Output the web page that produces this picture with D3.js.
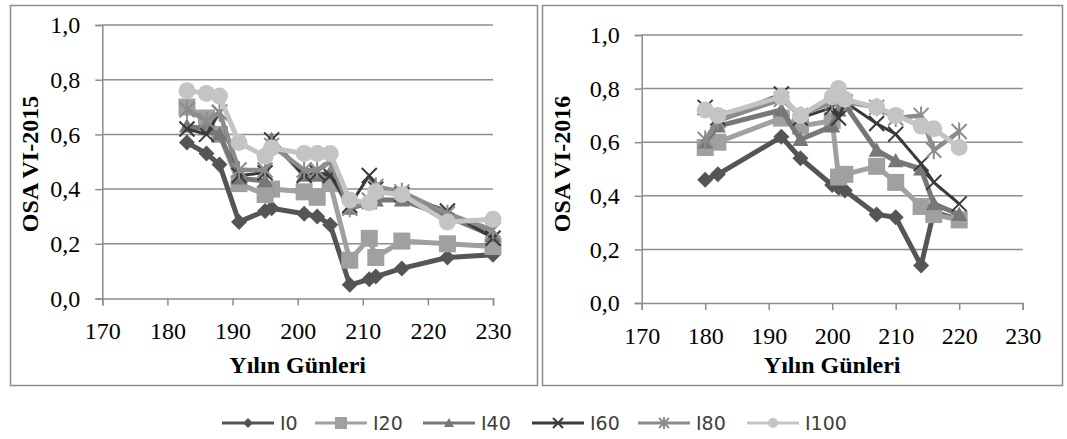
<!DOCTYPE html>
<html><head><meta charset="utf-8">
<script src="https://cdn.jsdelivr.net/npm/d3@7"></script>
<style>body{margin:0;background:#fff}svg{display:block}
.serif{font-family:"Liberation Serif","Times New Roman",Tinos,serif;font-size:24px;fill:#000}
.serif-b{font-family:"Liberation Serif","Times New Roman",Tinos,serif;font-size:24px;font-weight:bold;fill:#000}
.leg{font-family:"DejaVu Sans",Verdana,sans-serif;font-size:19px;fill:#404040}
</style>
</head><body>
<script>
const seriesNames = ["I0","I20","I40","I60","I80","I100"];
const days2015 = [183,186,188,191,195,196,201,203,205,208,211,212,216,223,230];
const i0_2015   = [0.57,0.53,0.49,0.28,0.32,0.33,0.31,0.30,0.27,0.05,0.07,0.08,0.11,0.15,0.16];
const i20_2015  = [0.70,0.66,0.60,0.42,0.38,0.40,0.39,0.37,0.42,0.14,0.22,0.15,0.21,0.20,0.19];
const i40_2015  = [0.63,0.62,0.60,0.44,0.43,0.58,0.45,0.45,0.46,0.33,0.35,0.36,0.36,0.30,0.23];
const i60_2015  = [0.62,0.60,0.68,0.45,0.46,0.58,0.45,0.46,0.45,0.34,0.45,0.40,0.38,0.32,0.22];
const i80_2015  = [0.69,0.65,0.68,0.47,0.47,0.56,0.47,0.47,0.50,0.33,0.36,0.41,0.39,0.31,0.25];
const i100_2015 = [0.76,0.75,0.74,0.57,0.52,0.55,0.53,0.53,0.53,0.36,0.35,0.39,0.38,0.28,0.29];

const days2016 = [180,182,192,195,200,201,202,207,210,214,216,220];
const i0_2016   = [0.46,0.48,0.62,0.54,0.44,0.43,0.42,0.33,0.32,0.14,0.34,0.31];
const i20_2016  = [0.58,0.60,0.69,0.66,0.68,0.47,0.48,0.51,0.45,0.36,0.33,0.31];
const i40_2016  = [0.60,0.66,0.72,0.61,0.66,0.72,0.74,0.57,0.53,0.50,0.37,0.33];
const i60_2016  = [0.73,0.69,0.78,0.69,0.73,0.69,0.75,0.67,0.63,0.52,0.45,0.37];
const i80_2016  = [0.61,0.68,0.76,0.70,0.75,0.78,0.75,0.73,0.69,0.70,0.57,0.64];
const i100_2016 = [0.72,0.70,0.77,0.70,0.77,0.80,0.76,0.73,0.70,0.66,0.65,0.58];

const xTicks = [170,180,190,200,210,220,230];
const yTicks = [0,0.2,0.4,0.6,0.8,1.0];

const colors = {I0:"#555555",I20:"#a0a0a0",I40:"#777777",I60:"#3a3a3a",I80:"#8c8c8c",I100:"#c4c4c4"};
const widths = {I0:5,I20:5,I40:5,I60:3,I80:4.5,I100:5};
const markers = {I0:"diamond",I20:"square",I40:"triangle",I60:"x",I80:"star",I100:"circle"};
const msize = {I0:16,I20:17,I40:16,I60:15,I80:15,I100:17};

const svg = d3.select("body").append("svg").attr("width",1067).attr("height",439);

function markerPath(type, s){
  const h=s/2;
  switch(type){
    case "diamond": return `M0,${-h}L${h},0L0,${h}L${-h},0Z`;
    case "square": return `M${-h},${-h}H${h}V${h}H${-h}Z`;
    case "triangle": return `M0,${-h}L${h},${h*0.8}L${-h},${h*0.8}Z`;
    case "x": return `M${-h},${-h}L${h},${h}M${-h},${h}L${h},${-h}`;
    case "star": return `M${-h},${-h}L${h},${h}M${-h},${h}L${h},${-h}M0,${-h*1.2}V${h*1.2}`;
    case "circle": return d3.symbol(d3.symbolCircle, Math.PI*h*h)();
  }
}
function drawMarker(g,type,x,y,s,col){
  const p = g.append("path").attr("d",markerPath(type,s)).attr("transform",`translate(${x},${y})`);
  if(type==="x"||type==="star") p.attr("fill","none").attr("stroke",col).attr("stroke-width",2);
  else p.attr("fill",col).attr("stroke","none");
}

function panel(opt){
  const g = svg.append("g");
  g.append("rect").attr("x",opt.box[0]+0.5).attr("y",opt.box[1]+0.5).attr("width",opt.box[2]).attr("height",opt.box[3])
    .attr("fill","#fff").attr("stroke","#8c8c8c").attr("stroke-width",1.5);
  const x = d3.scaleLinear().domain([170,230]).range(opt.xr);
  const y = d3.scaleLinear().domain([0,1]).range(opt.yr);
  g.selectAll(".grid").data(yTicks.slice(1)).enter().append("line")
    .attr("x1",opt.xr[0]).attr("x2",opt.xr[1]).attr("y1",d=>y(d)).attr("y2",d=>y(d))
    .attr("stroke","#8c8c8c").attr("stroke-width",1.5);
  const ya = g.append("g").attr("transform",`translate(${opt.xr[0]},0)`)
    .call(d3.axisLeft(y).tickValues(yTicks).tickSize(7).tickPadding(15).tickFormat(d=>d3.format(".1f")(d).replace(".",",")));
  const xa = g.append("g").attr("transform",`translate(0,${opt.yr[0]})`)
    .call(d3.axisBottom(x).tickValues(xTicks).tickSize(7).tickPadding(opt.xpad).tickFormat(d3.format("d")));
  [ya,xa].forEach(a=>{
    a.attr("font-family",null).attr("font-size",null);
    a.select(".domain").attr("stroke","#8c8c8c").attr("stroke-width",1.5);
    a.selectAll(".tick line").attr("stroke","#8c8c8c").attr("stroke-width",1.5);
    a.selectAll("text").attr("class","serif").attr("fill",null);
  });
  g.append("text").attr("class","serif-b").attr("x",(opt.xr[0]+opt.xr[1])/2).attr("y",opt.xtitleY)
    .attr("text-anchor","middle").text("Yılın Günleri");
  g.append("text").attr("class","serif-b").attr("transform",`translate(${opt.ytitleX},${opt.ytitleY}) rotate(-90)`)
    .attr("text-anchor","middle").text(opt.ytitle);
  const line = d3.line().x(d=>x(d[0])).y(d=>y(d[1]));
  seriesNames.forEach((n,i)=>{
    const pts = opt.days.map((d,j)=>[d,opt.vals[i][j]]);
    g.append("path").datum(pts).attr("d",line).attr("fill","none")
      .attr("stroke",colors[n]).attr("stroke-width",widths[n]).attr("stroke-linejoin","round");
    pts.forEach(p=>drawMarker(g,markers[n],x(p[0]),y(p[1]),msize[n],colors[n]));
  });
}

panel({box:[10,5,527,380], xr:[102.3,493], yr:[298.5,25], xpad:16, days:days2015,
  vals:[i0_2015,i20_2015,i40_2015,i60_2015,i80_2015,i100_2015],
  xtitleY:373, ytitleX:38, ytitleY:164, ytitle:"OSA VI-2015"});
panel({box:[542,5,520,380], xr:[641.7,1022.7], yr:[303,35], xpad:17, days:days2016,
  vals:[i0_2016,i20_2016,i40_2016,i60_2016,i80_2016,i100_2016],
  xtitleY:373, ytitleX:570, ytitleY:164, ytitle:"OSA VI-2016"});

const legX = [222,315,423,532,638,747];
const lg = svg.append("g");
seriesNames.forEach((n,i)=>{
  const x0=legX[i], yy=423;
  lg.append("line").attr("x1",x0).attr("x2",x0+52).attr("y1",yy).attr("y2",yy)
    .attr("stroke",colors[n]).attr("stroke-width",3);
  drawMarker(lg,markers[n],x0+26,yy,n==="I20"?12:10,colors[n]);
  lg.append("text").attr("class","leg").attr("x",x0+58).attr("y",yy+7).text(n);
});
</script>
</body></html>
